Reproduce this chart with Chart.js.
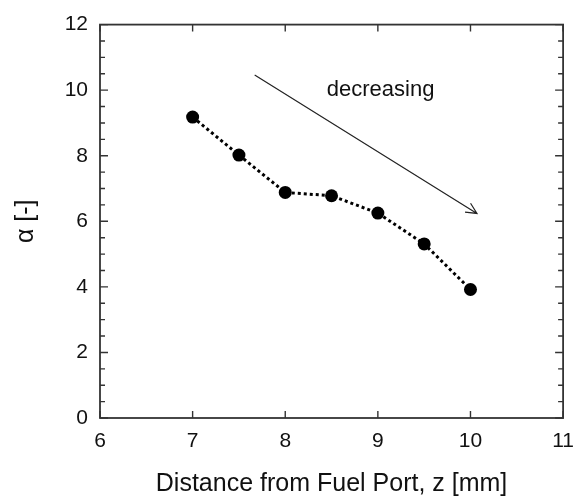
<!DOCTYPE html>
<html>
<head>
<meta charset="utf-8">
<script src="https://cdn.jsdelivr.net/npm/chart.js@4.4.1/dist/chart.umd.min.js"></script>
<style>
  html, body { margin: 0; padding: 0; background: #fff; }
  #wrap { width: 585px; height: 497px; position: relative; }
</style>
</head>
<body>
<div id="wrap"><canvas id="alphaChart"></canvas></div>
<script>
// ---- data ----
const distance = [7, 7.5, 8, 8.5, 9, 9.5, 10];            // z [mm]
const alpha = [9.18, 8.02, 6.88, 6.78, 6.25, 5.31, 3.92];   // alpha [-]

const xTitle = 'Distance from Fuel Port, z [mm]';
const yTitle = 'α [-]';

// annotation arrow (data units), start -> end
const arrowX = [7.67, 10.07];
const arrowY = [10.46, 6.24];
const noteText = 'decreasing';
const notePos = [9.03, 9.82];

const FONT = "'Liberation Sans', Arial, sans-serif";

// frame, inward ticks on all four sides, arrow + note
const frameAndTicks = {
  id: 'frameAndTicks',
  afterDatasetsDraw(chart) {
    const { ctx, chartArea: a, scales: { x, y } } = chart;
    ctx.save();
    ctx.strokeStyle = '#333';
    ctx.lineWidth = 1.8;
    ctx.strokeRect(a.left, a.top, a.width, a.height);

    ctx.beginPath();
    x.ticks.forEach(t => {
      const px = x.getPixelForValue(t.value);
      ctx.moveTo(px, a.bottom); ctx.lineTo(px, a.bottom - 7);
      ctx.moveTo(px, a.top); ctx.lineTo(px, a.top + 7);
    });
    y.ticks.forEach(t => {
      const py = y.getPixelForValue(t.value);
      const len = t.value % 2 === 0 ? 8 : 5;
      ctx.moveTo(a.left, py); ctx.lineTo(a.left + len, py);
      ctx.moveTo(a.right, py); ctx.lineTo(a.right - len, py);
    });
    ctx.lineWidth = 1.4;
    ctx.stroke();

    // arrow
    const x0 = x.getPixelForValue(arrowX[0]), y0 = y.getPixelForValue(arrowY[0]);
    const x1 = x.getPixelForValue(arrowX[1]), y1 = y.getPixelForValue(arrowY[1]);
    const ang = Math.atan2(y1 - y0, x1 - x0);
    const head = 12, spread = 0.45;
    ctx.strokeStyle = '#222';
    ctx.lineWidth = 1.2;
    ctx.beginPath();
    ctx.moveTo(x0, y0); ctx.lineTo(x1, y1);
    ctx.moveTo(x1 - head * Math.cos(ang - spread), y1 - head * Math.sin(ang - spread));
    ctx.lineTo(x1, y1);
    ctx.lineTo(x1 - head * Math.cos(ang + spread), y1 - head * Math.sin(ang + spread));
    ctx.stroke();

    // note
    ctx.fillStyle = '#111';
    ctx.font = '22px ' + FONT;
    ctx.textAlign = 'center';
    ctx.textBaseline = 'alphabetic';
    ctx.fillText(noteText, x.getPixelForValue(notePos[0]), y.getPixelForValue(notePos[1]));
    ctx.restore();
  }
};

new Chart(document.getElementById('alphaChart').getContext('2d'), {
  type: 'scatter',
  data: {
    datasets: [{
      data: distance.map((z, i) => ({ x: z, y: alpha[i] })),
      showLine: true,
      borderColor: '#000',
      borderWidth: 3,
      borderDash: [3, 3],
      pointRadius: 6.5,
      pointBackgroundColor: '#000',
      pointBorderColor: '#000',
      pointBorderWidth: 0
    }]
  },
  options: {
    responsive: true,
    maintainAspectRatio: false,
    animation: false,
    layout: { padding: { top: 23, right: 20, left: 0, bottom: 0 } },
    scales: {
      x: {
        type: 'linear',
        min: 6, max: 11,
        grid: { display: false, drawTicks: false },
        border: { display: false },
        ticks: { stepSize: 1, padding: 11, color: '#111', font: { size: 21, family: FONT } },
        title: { display: true, text: xTitle, color: '#111', padding: { top: 0, bottom: 0 }, font: { size: 25, family: FONT, lineHeight: 1.0 } },
        afterFit: s => { s.height = 79; }
      },
      y: {
        min: 0, max: 12,
        grid: { display: false, drawTicks: false },
        border: { display: false },
        ticks: {
          stepSize: 0.5, autoSkip: false, padding: 12, color: '#111',
          font: { size: 21, family: FONT },
          callback: v => (v % 2 === 0 ? v : '')
        },
        title: { display: true, text: yTitle, color: '#111', padding: { top: 14, bottom: 0 }, font: { size: 25, family: FONT, lineHeight: 1.0 } },
        afterFit: s => { s.width = 100; }
      }
    },
    plugins: { legend: { display: false }, tooltip: { enabled: false } }
  },
  plugins: [frameAndTicks]
});
</script>
</body>
</html>
